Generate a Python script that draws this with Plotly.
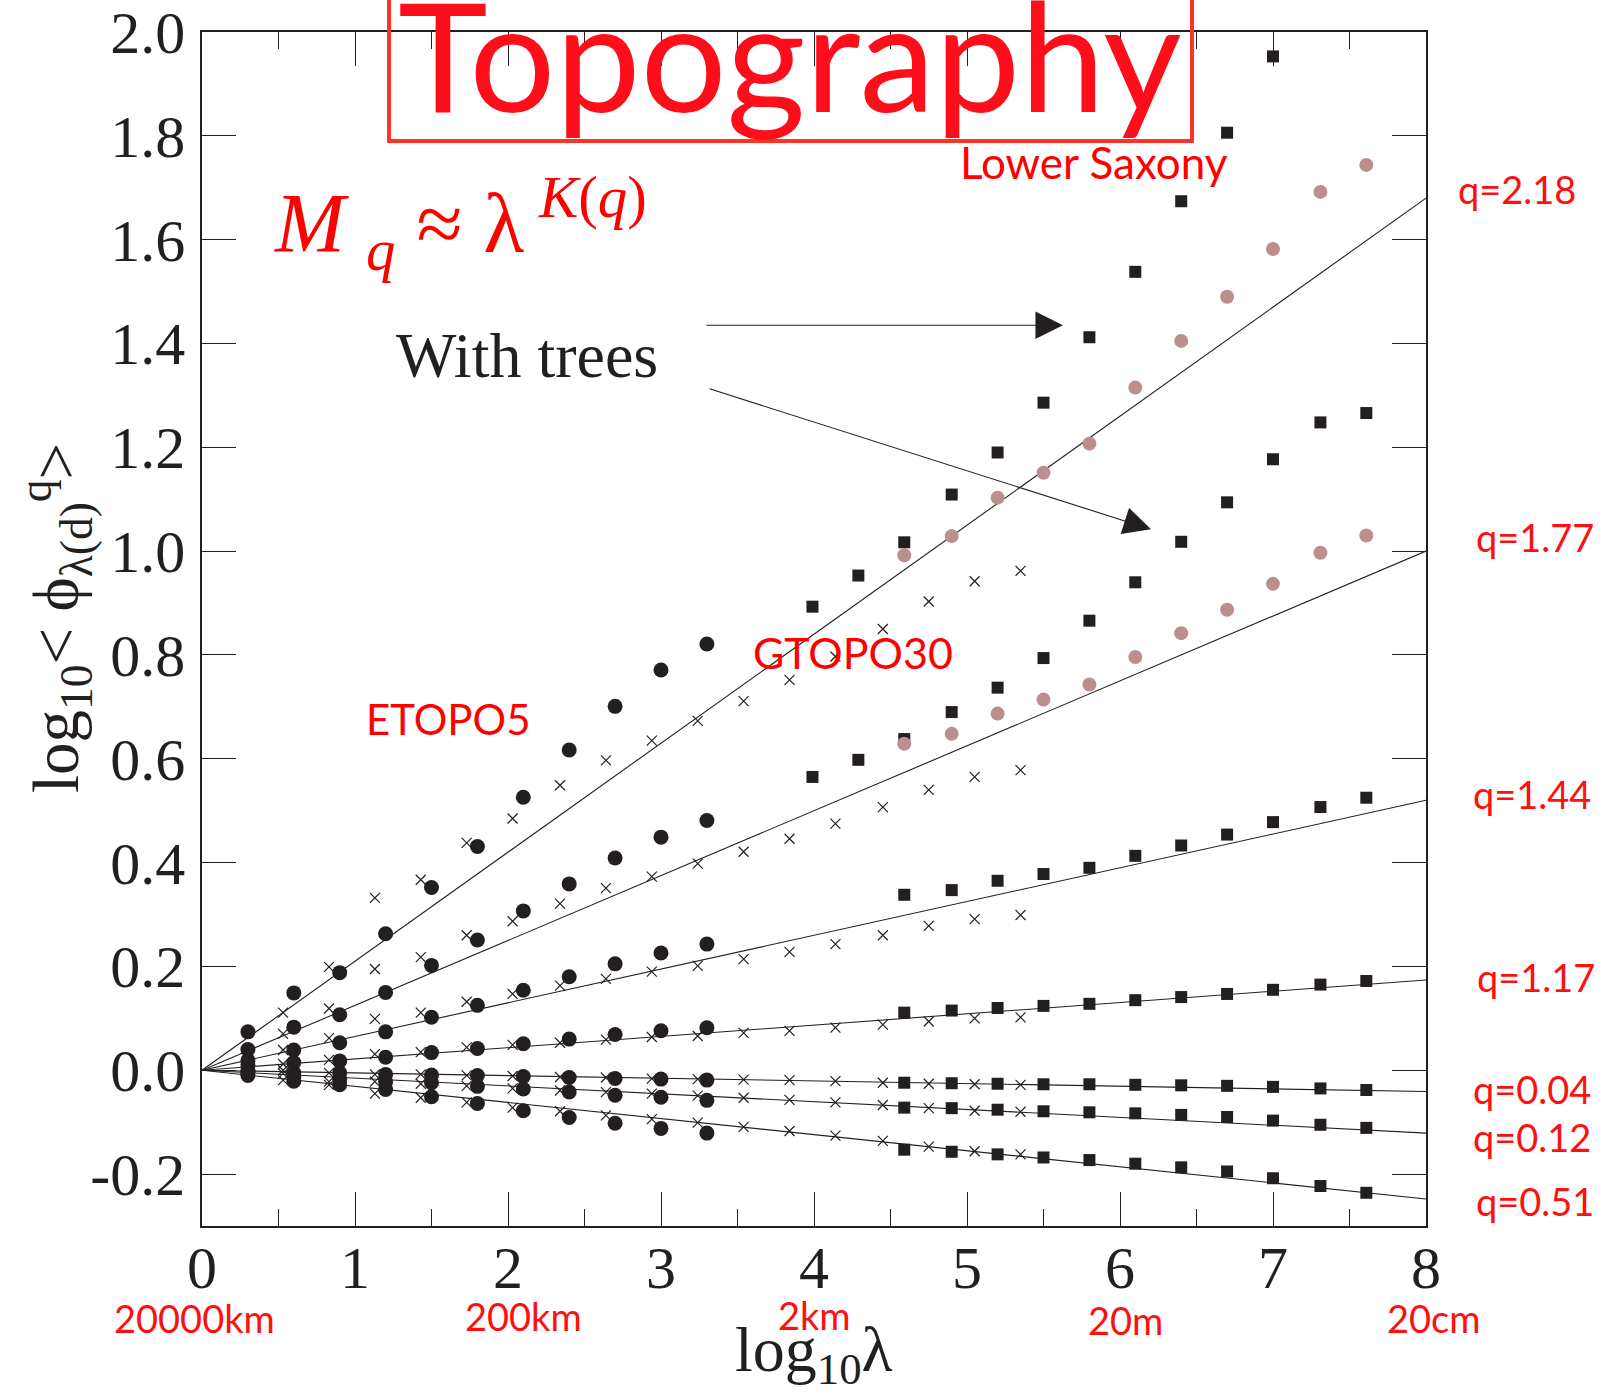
import plotly.graph_objects as go

# ---------------- data ----------------
q_labels = ["q=2.18", "q=1.77", "q=1.44", "q=1.17", "q=0.04", "q=0.12", "q=0.51"]
fit_x = [0.0, 8.0]
fit_end = [1.68, 1.00, 0.52, 0.174, -0.041, -0.121, -0.248]   # fitted line value at log10(lambda)=8

etopo_x = [0.30, 0.60, 0.90, 1.20, 1.50, 1.80, 2.10, 2.40, 2.70, 3.00, 3.30]
etopo_q218 = [0.074, 0.149, 0.188, 0.263, 0.352, 0.431, 0.526, 0.617, 0.701, 0.771, 0.821]
etopo_q177 = [0.040, 0.083, 0.107, 0.150, 0.202, 0.251, 0.307, 0.359, 0.409, 0.449, 0.481]
etopo_q144 = [0.019, 0.039, 0.053, 0.074, 0.102, 0.125, 0.154, 0.180, 0.205, 0.226, 0.243]
etopo_q117 = [0.010, 0.015, 0.018, 0.025, 0.034, 0.042, 0.051, 0.060, 0.069, 0.076, 0.082]
etopo_q004 = [-0.001, -0.005, -0.005, -0.008, -0.009, -0.010, -0.012, -0.014, -0.016, -0.017, -0.019]
etopo_q012 = [-0.005, -0.013, -0.018, -0.022, -0.024, -0.031, -0.036, -0.042, -0.048, -0.052, -0.058]
etopo_q051 = [-0.010, -0.021, -0.028, -0.037, -0.051, -0.064, -0.078, -0.091, -0.102, -0.112, -0.121]

gtopo_x = [0.53, 0.83, 1.13, 1.43, 1.73, 2.03, 2.34, 2.64, 2.94, 3.24, 3.54, 3.84, 4.14, 4.45, 4.75, 5.05, 5.35]
gtopo_q218 = [0.111, 0.199, 0.332, 0.367, 0.438, 0.485, 0.549, 0.597, 0.635, 0.673, 0.711, 0.752, 0.797, 0.850, 0.903, 0.942, 0.962]
gtopo_q177 = [0.070, 0.119, 0.195, 0.218, 0.260, 0.287, 0.321, 0.351, 0.373, 0.398, 0.421, 0.446, 0.475, 0.507, 0.540, 0.565, 0.578]
gtopo_q144 = [0.039, 0.062, 0.099, 0.111, 0.132, 0.147, 0.163, 0.176, 0.190, 0.201, 0.214, 0.228, 0.243, 0.260, 0.278, 0.291, 0.299]
gtopo_q117 = [0.012, 0.020, 0.031, 0.035, 0.044, 0.049, 0.053, 0.059, 0.064, 0.066, 0.072, 0.076, 0.082, 0.088, 0.094, 0.100, 0.102]
gtopo_q004 = [0.000, -0.005, -0.008, -0.008, -0.010, -0.011, -0.013, -0.014, -0.016, -0.017, -0.018, -0.019, -0.021, -0.024, -0.026, -0.027, -0.028]
gtopo_q012 = [-0.006, -0.022, -0.022, -0.026, -0.030, -0.035, -0.039, -0.042, -0.045, -0.049, -0.053, -0.057, -0.062, -0.067, -0.073, -0.078, -0.080]
gtopo_q051 = [-0.019, -0.028, -0.045, -0.053, -0.062, -0.072, -0.079, -0.087, -0.094, -0.101, -0.109, -0.117, -0.126, -0.136, -0.147, -0.156, -0.162]

saxony_x = [3.99, 4.29, 4.59, 4.90, 5.20, 5.50, 5.80, 6.10, 6.40, 6.70, 7.00, 7.31, 7.61]
saxony_q218 = [0.893, 0.953, 1.017, 1.109, 1.190, 1.286, 1.412, 1.538, 1.674, 1.806, 1.953]
saxony_q177 = [0.565, 0.598, 0.638, 0.690, 0.737, 0.794, 0.866, 0.940, 1.018, 1.094, 1.177, 1.248, 1.266]
saxony_q144 = [0.338, 0.347, 0.365, 0.378, 0.390, 0.413, 0.433, 0.454, 0.478, 0.507, 0.525]
saxony_q117 = [0.111, 0.115, 0.120, 0.124, 0.128, 0.135, 0.141, 0.147, 0.155, 0.165, 0.172]
saxony_q004 = [-0.024, -0.025, -0.026, -0.027, -0.027, -0.028, -0.029, -0.030, -0.032, -0.035, -0.038]
saxony_q012 = [-0.072, -0.073, -0.076, -0.079, -0.081, -0.083, -0.086, -0.090, -0.097, -0.105, -0.111]
saxony_q051 = [-0.153, -0.157, -0.162, -0.168, -0.173, -0.180, -0.187, -0.195, -0.208, -0.223, -0.236]

trees_x = [4.59, 4.90, 5.20, 5.50, 5.80, 6.10, 6.40, 6.70, 7.00, 7.31, 7.61]
trees_q218 = [0.992, 1.029, 1.103, 1.151, 1.207, 1.315, 1.405, 1.490, 1.582, 1.692, 1.744]
trees_q177 = [0.629, 0.648, 0.687, 0.714, 0.743, 0.796, 0.842, 0.887, 0.937, 0.997, 1.030]

x_ticks = [0, 1, 2, 3, 4, 5, 6, 7, 8]
y_ticks = [-0.2, 0.0, 0.2, 0.4, 0.6, 0.8, 1.0, 1.2, 1.4, 1.6, 1.8, 2.0]
y_ticktext = ["-0.2", "0.0", "0.2", "0.4", "0.6", "0.8", "1.0", "1.2", "1.4", "1.6", "1.8", "2.0"]
scale_labels = ["20000km", "200km", "2km", "20m", "20cm"]

# ---------------- styling ----------------
INK = "#231f20"
PINK = "#bc8f8f"
RED = "#ff0d1a"
SERIF = "Liberation Serif, Times New Roman, serif"
SANS = "Lato, Open Sans, sans-serif"

W, H = 1602, 1398
L, R, T, B = 202, 176, 32, 172
PW, PH = W - L - R, H - T - B


def px(xf):
    return (xf - L) / PW


def py(yf):
    return (H - B - yf) / PH


fig = go.Figure()

for end in fit_end:
    fig.add_trace(go.Scatter(x=fit_x, y=[0.0, end], mode="lines",
                             line=dict(color=INK, width=1.1), hoverinfo="skip"))

for row in [etopo_q218, etopo_q177, etopo_q144, etopo_q117, etopo_q004, etopo_q012, etopo_q051]:
    fig.add_trace(go.Scatter(x=etopo_x[:len(row)], y=row, mode="markers",
                             marker=dict(symbol="circle", size=15, color=INK, line=dict(width=0))))

for row in [gtopo_q218, gtopo_q177, gtopo_q144, gtopo_q117, gtopo_q004, gtopo_q012, gtopo_q051]:
    fig.add_trace(go.Scatter(x=gtopo_x[:len(row)], y=row, mode="markers",
                             marker=dict(symbol="x-thin", size=10, color=INK,
                                         line=dict(width=1.2, color=INK))))

for row, xs in [(saxony_q218, saxony_x), (saxony_q177, saxony_x),
                (saxony_q144, saxony_x[2:]), (saxony_q117, saxony_x[2:]),
                (saxony_q004, saxony_x[2:]), (saxony_q012, saxony_x[2:]),
                (saxony_q051, saxony_x[2:])]:
    fig.add_trace(go.Scatter(x=xs[:len(row)], y=row, mode="markers",
                             marker=dict(symbol="square", size=12, color=INK, line=dict(width=0))))

for row in [trees_q218, trees_q177]:
    fig.add_trace(go.Scatter(x=trees_x, y=row, mode="markers",
                             marker=dict(symbol="circle", size=14, color=PINK, line=dict(width=0))))

axis_common = dict(
    showgrid=False, zeroline=False, showline=True, linewidth=1.6, linecolor=INK,
    mirror="ticks", ticks="inside", ticklen=34, tickwidth=1.2, tickcolor=INK,
    tickfont=dict(family=SERIF, size=60, color=INK), automargin=False,
)

fig.update_layout(
    width=W, height=H,
    margin=dict(l=L, r=R, t=T, b=B, pad=0, autoexpand=False),
    paper_bgcolor="white", plot_bgcolor="white",
    showlegend=False,
    xaxis=dict(range=[0, 8], tickvals=x_ticks, ticklabelstandoff=-12,
               minor=dict(dtick=0.5, tick0=0, ticks="inside", ticklen=17, tickwidth=1.2, tickcolor=INK),
               **axis_common),
    yaxis=dict(range=[-0.3, 2.0], tickvals=y_ticks, ticktext=y_ticktext, ticklabelstandoff=3,
               **axis_common),
)

ann = []
# big title
ann.append(dict(text="Topography", xref="paper", yref="paper", x=px(790), y=py(53),
                xanchor="center", yanchor="middle", showarrow=False,
                font=dict(family=SANS, size=152, color=RED)))
fig.add_shape(type="rect", xref="paper", yref="paper", x0=px(389), x1=px(1192),
              y0=py(141), y1=py(-30), line=dict(color="#ff3322", width=4), fillcolor="rgba(0,0,0,0)")

# formula
ann.append(dict(text="<i>M</i> <sub><i>q</i></sub> ≈ λ<sup> <i>K</i>(<i>q</i>)</sup>",
                xref="paper", yref="paper", x=px(272), y=py(224), xanchor="left", yanchor="middle",
                showarrow=False, font=dict(family=SERIF, size=84, color="#ff0000")))

ann.append(dict(text="With trees", xref="paper", yref="paper", x=px(394), y=py(355),
                xanchor="left", yanchor="middle", showarrow=False,
                font=dict(family=SERIF, size=64, color=INK)))

# dataset labels
for txt, xc, yc, sz in [("Lower Saxony", 1094, 162, 44), ("GTOPO30", 853, 652, 43), ("ETOPO5", 448, 719, 42)]:
    ann.append(dict(text=txt, xref="paper", yref="paper", x=px(xc), y=py(yc),
                    xanchor="center", yanchor="middle", showarrow=False,
                    font=dict(family=SANS, size=sz, color="#ff0000")))

# q labels at right
q_label_left = [1456, 1474, 1471, 1475, 1471, 1471, 1474]
q_label_y = [189, 537, 794, 977, 1089, 1137, 1201]
for txt, xl, yc in zip(q_labels, q_label_left, q_label_y):
    ann.append(dict(text=txt, xref="paper", yref="paper", x=px(xl), y=py(yc),
                    xanchor="left", yanchor="middle", showarrow=False,
                    font=dict(family=SANS, size=38, color="#ff1010")))

# scale labels under x axis
scale_x = [194, 523, 814, 1125, 1433]
scale_y = [1318, 1316, 1315, 1320, 1318]
for txt, xc, yc in zip(scale_labels, scale_x, scale_y):
    ann.append(dict(text=txt, xref="paper", yref="paper", x=px(xc), y=py(yc),
                    xanchor="center", yanchor="middle", showarrow=False,
                    font=dict(family=SANS, size=38, color="#ff1010")))

# axis titles
ann.append(dict(text="log<sub>10</sub>λ", xref="paper", yref="paper", x=px(814), y=py(1312),
                xanchor="center", yanchor="top", showarrow=False,
                font=dict(family=SERIF, size=64, color=INK)))
ann.append(dict(text="log<sub>10</sub>&lt; ϕ<sub>λ(d)</sub><sup>q</sup>&gt;", xref="paper", yref="paper",
                x=px(56), y=py(618), xanchor="center", yanchor="middle", textangle=-90,
                showarrow=False, font=dict(family=SERIF, size=65, color=INK)))

# arrows
ann.append(dict(text="", x=5.627, y=1.435, xref="x", yref="y", ax=-358, ay=0,
                showarrow=True, arrowhead=2, arrowsize=5, arrowwidth=1.1, arrowcolor=INK))
ann.append(dict(text="", x=6.203, y=1.042, xref="x", yref="y", ax=-443, ay=-141,
                showarrow=True, arrowhead=2, arrowsize=5, arrowwidth=1.1, arrowcolor=INK))

fig.update_layout(annotations=ann)

fig.write_html("out.html")
